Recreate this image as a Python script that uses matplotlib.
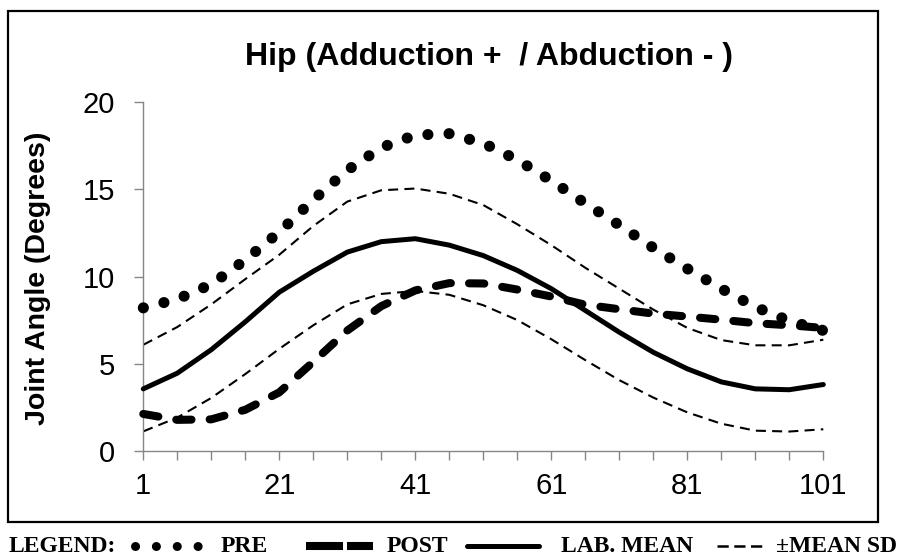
import matplotlib.pyplot as plt
import matplotlib.patches as mpatches
from matplotlib.lines import Line2D
from matplotlib.ticker import MultipleLocator

# percent of gait cycle (every 5 %)
pct = [1, 6, 11, 16, 21, 26, 31, 36, 41, 46, 51, 56, 61, 66, 71, 76, 81, 86, 91, 96, 101]

pre = [8.2, 8.7, 9.55, 10.95, 12.55, 14.4, 16.1, 17.4, 18.12, 18.2, 17.65,
       16.7, 15.5, 14.2, 12.95, 11.65, 10.45, 9.3, 8.25, 7.45, 6.9]
post = [2.11, 1.77, 1.8, 2.35, 3.35, 5.1, 6.9, 8.3, 9.2, 9.62, 9.6,
        9.25, 8.85, 8.38, 8.12, 7.87, 7.7, 7.52, 7.32, 7.2, 7.05]
lab_mean = [3.55, 4.45, 5.8, 7.4, 9.1, 10.3, 11.4, 12.0, 12.17, 11.8, 11.2,
            10.35, 9.3, 8.05, 6.8, 5.65, 4.7, 3.95, 3.55, 3.5, 3.8]
sd_upper = [6.08, 7.1, 8.4, 9.85, 11.25, 12.9, 14.3, 14.95, 15.05, 14.75, 14.1,
            13.0, 11.8, 10.5, 9.3, 8.1, 7.05, 6.35, 6.05, 6.05, 6.37]
sd_lower = [1.11, 1.9, 3.03, 4.4, 5.85, 7.2, 8.4, 9.0, 9.17, 8.95, 8.35,
            7.5, 6.4, 5.2, 4.05, 3.05, 2.2, 1.55, 1.15, 1.1, 1.23]

x_ticks = [1, 21, 41, 61, 81, 101]
y_ticks = [0, 5, 10, 15, 20]

sans = 'Liberation Sans'
serif = 'Liberation Serif'
grey = '#868686'

fig = plt.figure(figsize=(9.06, 5.6), dpi=100)
W, H = 906, 560

# overlay in pixel coords for the frame and the hand-made legend
ov = fig.add_axes([0, 0, 1, 1])
ov.set_xlim(0, W)
ov.set_ylim(H, 0)
ov.axis('off')
ov.add_patch(mpatches.Rectangle((8, 11), 870, 511, fill=False, lw=1.6, edgecolor='black'))

ax = fig.add_axes([143.3 / W, 1 - 450.7 / H, 680 / W, 348.4 / H])
ax.set_facecolor('none')

# SD band
for sd in (sd_upper, sd_lower):
    l, = ax.plot(pct, sd, color='black', lw=1.5, clip_on=False, zorder=2)
    l.set_dashes((4.8, 3))
ax.plot(pct, lab_mean, color='black', lw=3.6, solid_capstyle='round',
        solid_joinstyle='round', clip_on=False, zorder=3)
l, = ax.plot(pct, post, color='black', lw=5.8, dash_capstyle='round', clip_on=False, zorder=4)
l.set_dashes((1.9, 2.25))
l, = ax.plot(pct, pre, color='black', lw=8.0, dash_capstyle='round', clip_on=False, zorder=5)
l.set_dashes((0.01, 1.9))

ax.set_xlim(1, 101)
ax.set_ylim(0, 20)
ax.set_xticks(x_ticks)
ax.xaxis.set_minor_locator(MultipleLocator(5, offset=1))
ax.set_yticks(y_ticks)
for s in ('top', 'right'):
    ax.spines[s].set_visible(False)
for s in ('left', 'bottom'):
    ax.spines[s].set_color(grey)
    ax.spines[s].set_linewidth(1.0)
ax.tick_params(axis='both', which='both', direction='out', length=6.5, width=1.0, color=grey)
ax.tick_params(axis='x', which='major', pad=9)
ax.tick_params(axis='y', which='major', pad=14)
for t in ax.get_xticklabels() + ax.get_yticklabels():
    t.set_fontfamily(sans)
    t.set_fontsize(21)

fig.text(489 / W, 1 - 57 / H, 'Hip (Adduction +  / Abduction - )', ha='center', va='center',
         fontsize=23, fontweight='bold', family=sans)
fig.text(38 / W, 1 - 278 / H, 'Joint Angle (Degrees)', rotation=90, ha='center', va='center',
         fontsize=20.5, fontweight='bold', family=sans)

# legend below the frame
ly = 546
ov.text(9, 547, 'LEGEND:', ha='left', va='center', fontsize=17, fontweight='bold', family=serif)
ov.add_line(Line2D([135, 198], [ly, ly], color='black', lw=6.5, dash_capstyle='round',
                   dashes=(0.01, 2.3)))
ov.text(221, 547, 'PRE', ha='left', va='center', fontsize=17, fontweight='bold', family=serif)
ov.add_line(Line2D([306, 343], [ly, ly], color='black', lw=5.8, solid_capstyle='butt'))
ov.add_line(Line2D([347, 373], [ly, ly], color='black', lw=5.8, solid_capstyle='butt'))
ov.text(387, 547, 'POST', ha='left', va='center', fontsize=17, fontweight='bold', family=serif)
ov.add_line(Line2D([467, 539], [ly, ly], color='black', lw=3.6, solid_capstyle='round'))
ov.text(561, 547, 'LAB. MEAN', ha='left', va='center', fontsize=17, fontweight='bold', family=serif)
ov.add_line(Line2D([717, 764], [ly, ly], color='black', lw=1.8, dashes=(4.5, 2.2)))
ov.text(776, 547, '\u00b1MEAN SD', ha='left', va='center', fontsize=17, fontweight='bold', family=serif)

fig.savefig('out.png', dpi=100)
